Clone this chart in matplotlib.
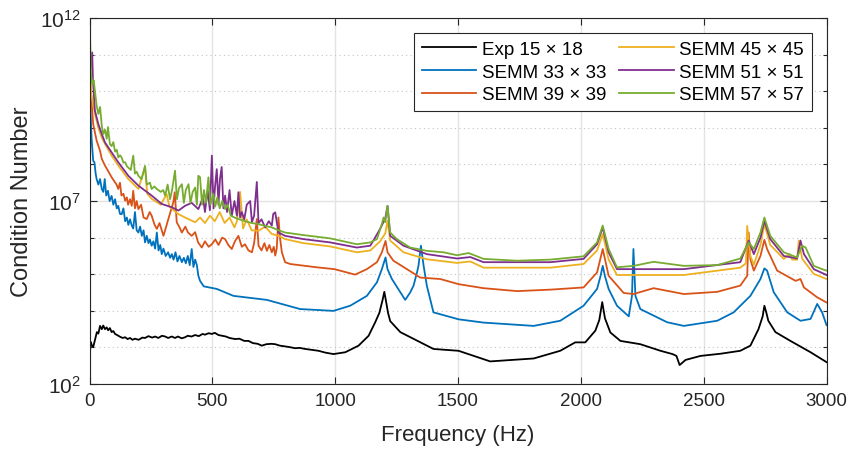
import numpy as np
import matplotlib
matplotlib.use('Agg')
import matplotlib.pyplot as plt
from matplotlib.ticker import FixedLocator, FixedFormatter, NullFormatter

plt.rcParams['font.family'] = ['Liberation Sans', 'DejaVu Sans']
plt.rcParams['mathtext.fontset'] = 'custom'
plt.rcParams['mathtext.rm'] = 'Liberation Sans'
plt.rcParams['mathtext.it'] = 'Liberation Sans:italic'

# frequency (Hz) and log10(condition number)
exp_f = [0, 3, 5, 10, 15, 22, 30, 36, 43, 50, 56, 63, 70, 76, 83, 90, 97, 104, 115, 125,
         135, 145, 155, 165, 175, 185, 200, 215, 226, 240, 255, 267, 280, 295, 308, 320, 335, 348, 360, 375,
         389, 400, 415, 430, 445, 460, 470, 485, 498, 510, 525, 540, 555, 570, 593, 610, 630, 647, 665, 685,
         701, 720, 740, 756, 775, 796, 815, 837, 855, 878, 900, 932, 960, 993,
         1041, 1095, 1136, 1163, 1180, 1193, 1200, 1206, 1215, 1224, 1265, 1400,
         1502, 1631, 1808, 1916, 1977, 2018, 2059, 2075, 2087, 2098, 2120, 2161, 2242, 2324, 2373, 2389, 2402, 2426, 2487, 2569,
         2649, 2690, 2723, 2740, 2747, 2755, 2763, 2792, 2853, 2935, 3000]
exp_c = [2.41, 3.0, 3.15, 3.05, 3.01, 3.2, 3.42, 3.38, 3.59, 3.5, 3.6, 3.50, 3.55, 3.47, 3.53, 3.42, 3.45, 3.37, 3.33, 3.29,
         3.26, 3.28, 3.23, 3.26, 3.21, 3.24, 3.21, 3.27, 3.26, 3.31, 3.27, 3.30, 3.26, 3.32, 3.30, 3.26, 3.30, 3.26, 3.3, 3.25,
         3.28, 3.32, 3.30, 3.34, 3.31, 3.37, 3.35, 3.39, 3.37, 3.40, 3.34, 3.32, 3.30, 3.26, 3.23, 3.24, 3.18, 3.18, 3.12, 3.10,
         3.05, 3.09, 3.10, 3.09, 3.05, 3.03, 3.01, 2.98, 2.99, 2.96, 2.94, 2.91, 2.86, 2.82,
         2.87, 3.05, 3.32, 3.69, 3.95, 4.30, 4.52, 4.30, 3.95, 3.72, 3.42, 2.96,
         2.91, 2.62, 2.70, 2.91, 3.14, 3.14, 3.46, 3.75, 4.24, 3.80, 3.41, 3.18, 3.09, 2.91, 2.82, 2.77, 2.52, 2.66, 2.77, 2.83,
         2.91, 3.05, 3.50, 3.85, 4.14, 3.95, 3.73, 3.42, 3.18, 2.87, 2.60]

s33_f = [0, 2, 6, 9, 15, 20, 25, 29, 36, 43, 50, 56, 62, 68, 75, 82, 90, 97, 104, 111,
         117, 124, 131, 138, 145, 152, 158, 165, 172, 178, 185, 192, 199, 206, 213, 220, 226, 233, 240, 246,
         253, 260, 267, 274, 281, 288, 294, 301, 310, 320, 328, 335, 342, 350, 358, 366, 376, 384, 392, 400,
         408, 416, 423, 430, 437, 443, 450, 465, 518, 586, 722, 857, 993,
         1061, 1129, 1170, 1190, 1205, 1213, 1231, 1285,
         1305, 1319, 1333, 1339, 1349, 1360, 1373, 1400, 1502, 1604, 1808, 1916, 2011, 2066, 2080, 2089, 2098, 2113, 2147, 2195,
         2208, 2214, 2222, 2242, 2351, 2419, 2555, 2622, 2690, 2731, 2747, 2758, 2785, 2840, 2894, 2935, 2962, 2982, 3000]
s33_c = [10.66, 10.01, 9.10, 8.65, 8.10, 8.06, 7.75, 7.60, 7.45, 7.6, 7.33, 7.25, 7.60, 7.15, 7.28, 7.0, 7.14, 6.9, 7.05, 6.8,
         6.87, 6.65, 6.64, 6.8, 6.45, 6.55, 6.35, 6.5, 6.33, 6.25, 6.70, 6.2, 6.14, 6.3, 6.05, 6.2, 5.87, 6.05, 5.85, 5.95,
         5.78, 5.9, 5.7, 6.14, 5.65, 5.8, 5.55, 5.7, 5.5, 5.6, 5.45, 5.55, 5.4, 5.6, 5.35, 5.5, 5.33, 5.45, 5.3, 5.5,
         5.25, 5.69, 5.2, 5.4, 5.25, 4.96, 4.82, 4.67, 4.60, 4.41, 4.30, 4.05, 4.00,
         4.14, 4.41, 4.78, 5.14, 5.46, 5.14, 4.87, 4.30,
         4.50, 4.69, 5.05, 5.23, 5.78, 5.23, 4.69, 3.96, 3.77, 3.68, 3.59, 3.73, 4.14, 4.60, 4.95, 5.23, 4.95, 4.60, 4.14, 3.85,
         4.41, 5.69, 4.41, 4.05, 3.69, 3.59, 3.73, 3.96, 4.41, 4.87, 5.16, 5.10, 4.51, 3.96, 3.73, 3.78, 4.19, 3.96, 3.61]

s39_f = [0, 2, 8, 15, 29, 43, 50, 63, 90, 110, 117, 124, 130, 138, 145, 152, 157, 165, 172, 178,
         185, 192, 199, 210, 220, 233, 245, 253, 265, 274, 285, 301, 312, 321, 333, 341, 347, 355, 365, 376,
         390, 401, 416, 430, 442, 457, 470, 485, 498, 512, 525, 540, 552, 565, 579, 592, 606, 620, 633, 647,
         661, 670, 681, 688, 700, 712, 722, 732, 742, 750, 756, 762, 769, 776, 783, 796, 817,
         925, 997, 1081, 1129, 1170, 1190, 1205, 1213, 1237, 1292, 1346, 1428, 1502, 1604, 1740, 1876, 2011, 2066, 2089, 2113,
         2174, 2214, 2296, 2419, 2555, 2649, 2677, 2683, 2690, 2704, 2731, 2747, 2758, 2799, 2874, 2894, 2908, 2962, 3000]
s39_c = [10.88, 10.47, 9.74, 9.10, 8.65, 8.37, 8.15, 7.97, 7.65, 7.45, 7.33, 7.5, 7.15, 7.2, 7.01, 7.1, 6.9, 7.05, 6.87, 7.28,
         6.8, 7.0, 6.78, 6.9, 6.55, 6.51, 6.7, 6.60, 6.35, 6.24, 6.4, 6.05, 6.3, 6.51, 6.78, 6.96, 7.24, 6.42, 6.3, 6.14,
         6.3, 6.14, 6.05, 6.15, 5.87, 5.73, 5.9, 5.75, 5.82, 5.95, 5.8, 6.0, 5.96, 5.8, 5.69, 5.9, 6.05, 5.75, 5.82, 5.65,
         5.60, 5.85, 6.51, 5.78, 5.65, 5.85, 5.64, 5.8, 5.60, 5.75, 5.51, 5.7, 6.55, 5.96, 5.6, 5.33, 5.28,
         5.19, 5.14, 4.99, 5.14, 5.33, 5.60, 5.91, 5.60, 5.37, 5.14, 4.91, 4.87, 4.73, 4.62, 4.54, 4.58, 4.64, 5.05, 5.69, 4.96,
         4.49, 4.46, 4.62, 4.46, 4.52, 4.69, 4.96, 6.14, 5.41, 5.10, 5.50, 5.94, 5.69, 5.10, 4.82, 4.87, 4.64, 4.37, 4.23]

s45_f = [0, 4, 8, 22, 36, 50, 63, 90, 117, 158, 199, 226, 235, 253, 290, 314, 325, 360, 389, 430,
         450, 470, 490, 510, 530, 550, 570, 590, 600, 613, 625, 640, 660, 688, 715, 742, 770, 796,
         871, 980, 1088, 1143, 1183, 1204, 1213, 1224, 1278, 1373, 1496, 1550,
         1604, 1876, 2011, 2066, 2089, 2113, 2147, 2419, 2649, 2672, 2677, 2690, 2704, 2731, 2747, 2771, 2826, 2850, 2860, 2880,
         2887, 2901, 2948, 3000]
s45_c = [11.2, 10.3, 9.9, 9.38, 9.00, 8.73, 8.56, 8.24, 7.97, 7.60, 7.33, 7.93, 7.2, 7.06, 6.9, 7.19, 6.85, 6.65, 6.55, 6.42,
         6.55, 6.40, 6.6, 6.45, 6.7, 6.40, 6.55, 6.28, 6.45, 7.25, 6.25, 6.5, 6.2, 6.19, 6.3, 6.10, 6.05, 5.96,
         5.85, 5.76, 5.60, 5.65, 5.90, 6.12, 6.46, 5.92, 5.60, 5.41, 5.31, 5.35,
         5.18, 5.18, 5.28, 5.65, 6.10, 5.40, 4.98, 4.98, 5.18, 5.30, 6.32, 5.50, 5.26, 5.80, 6.37, 5.80, 5.42, 5.55, 5.40, 5.40,
         5.92, 5.42, 5.01, 4.87]

s51_f = [0, 4, 11, 14, 22, 36, 50, 63, 90, 117, 158, 199, 253, 294, 335, 362, 389, 416, 443, 462,
         470, 481, 490, 498, 505, 511, 518, 525, 531, 538, 545, 552, 560, 570, 579, 590, 600, 606, 613, 620,
         630, 640, 654, 661, 670, 681, 688, 700, 715, 730, 742, 748, 756, 769, 796,
         871, 980, 1088, 1143, 1183, 1204, 1213, 1224, 1278, 1373, 1496, 1550, 1604, 1876, 2011,
         2066, 2089, 2113, 2147, 2419, 2649, 2677, 2683, 2704, 2731, 2747, 2771, 2826, 2880, 2894, 2908, 2948, 3000]
s51_c = [11.3, 10.6, 11.06, 10.3, 9.47, 9.10, 8.83, 8.60, 8.33, 8.06, 7.69, 7.42, 7.15, 6.92, 6.83, 6.74, 6.87, 6.95, 6.78, 7.1,
         6.7, 7.3, 6.75, 8.24, 6.8, 7.4, 7.87, 6.9, 7.6, 7.93, 6.8, 7.15, 6.7, 7.3, 6.6, 7.0, 6.6, 7.24, 6.55, 6.7,
         6.5, 6.9, 7.0, 6.42, 6.6, 7.52, 6.4, 6.5, 6.28, 6.45, 6.33, 6.65, 6.69, 6.14, 6.05,
         5.96, 5.87, 5.73, 5.78, 6.24, 6.53, 6.87, 6.05, 5.78, 5.55, 5.43, 5.47, 5.33, 5.33, 5.42,
         5.82, 6.28, 5.60, 5.14, 5.14, 5.33, 5.82, 5.92, 5.55, 6.00, 6.46, 5.96, 5.50, 5.43, 5.92, 5.55, 5.14, 4.98]

s57_f = [0, 2, 6, 12, 17, 22, 29, 36, 43, 50, 56, 63, 70, 75, 83, 90, 97, 104, 111, 117,
         124, 131, 138, 145, 152, 160, 168, 178, 185, 192, 199, 212, 226, 233, 246, 253, 264, 274, 290, 300,
         308, 318, 328, 336, 348, 356, 364, 376, 384, 392, 403, 411, 420, 430, 437, 443, 450, 458, 466, 474,
         484, 492, 504, 512, 520, 530, 540, 552, 562, 575, 590, 610, 633, 660, 688, 715, 742, 770, 796,
         871, 980, 1088, 1143, 1170, 1190, 1197, 1204, 1213, 1224, 1251, 1305, 1373, 1441, 1496, 1543, 1604, 1740, 1876, 2011,
         2066, 2089, 2113, 2147, 2214, 2296, 2419, 2555, 2649, 2683, 2704, 2731, 2747, 2771, 2826, 2880, 2901, 2915, 2948, 2982,
         3000]
s57_c = [12.0, 11.56, 10.47, 10.2, 10.3, 10.01, 9.6, 9.38, 9.57, 9.05, 8.83, 8.95, 8.7, 9.02, 8.56, 8.5, 8.61, 8.35, 8.4, 8.19,
         8.25, 8.19, 8.05, 8.06, 7.95, 7.9, 7.85, 8.24, 7.75, 7.8, 7.69, 7.6, 7.96, 7.45, 7.5, 7.33, 7.4, 7.33, 7.25, 7.3,
         7.15, 7.45, 7.05, 7.3, 7.83, 7.05, 7.35, 7.46, 6.95, 7.3, 7.46, 6.95, 7.25, 7.37, 6.9, 7.69, 7.65, 6.9, 7.3, 6.95,
         7.65, 6.9, 7.2, 6.85, 7.1, 6.8, 7.0, 6.78, 6.9, 6.6, 6.55, 6.5, 6.45, 6.40, 6.37, 6.32, 6.28, 6.2, 6.14,
         6.07, 5.98, 5.82, 5.87, 5.96, 6.37, 6.55, 6.42, 6.87, 6.14, 5.96, 5.73, 5.64, 5.60, 5.52, 5.58, 5.42, 5.37, 5.40, 5.49,
         5.87, 6.33, 5.69, 5.19, 5.23, 5.34, 5.23, 5.25, 5.43, 5.87, 5.69, 6.14, 6.55, 6.05, 5.60, 5.46, 5.78, 5.73, 5.23, 5.14,
         5.10]

labels = ['Exp 15 × 18', 'SEMM 33 × 33', 'SEMM 39 × 39',
          'SEMM 45 × 45', 'SEMM 51 × 51', 'SEMM 57 × 57']
colors = ['#000000', '#0072bd', '#d95319', '#edb120', '#7e2f8e', '#77ac30']
series = [(exp_f, exp_c), (s33_f, s33_c), (s39_f, s39_c),
          (s45_f, s45_c), (s51_f, s51_c), (s57_f, s57_c)]

fig = plt.figure(figsize=(8.5, 4.52), dpi=100)
ax = fig.add_axes([0.1053, 0.148, 0.8671, 0.81])

for (f, c), lab, col in zip(series, labels, colors):
    ax.plot(f, 10 ** np.array(c), color=col, lw=1.3, label=lab)

ax.set_yscale('log')
ax.set_xlim(0, 3000)
ax.set_ylim(1e2, 1e12)
ax.set_xticks(np.arange(0, 3001, 500))
ax.yaxis.set_major_locator(FixedLocator([1e2, 1e7, 1e12]))
ax.yaxis.set_major_formatter(FixedFormatter([r'$10^{2}$', r'$10^{7}$', r'$10^{12}$']))
ax.yaxis.set_minor_locator(FixedLocator([10.0 ** k for k in range(3, 12) if k != 7]))
ax.yaxis.set_minor_formatter(NullFormatter())

ax.grid(True, which='major', color='#e3e3e3', lw=1.0, ls='-')
ax.grid(True, which='minor', axis='y', color='#c4c4c4', lw=0.8, ls=(0, (1, 3)))
ax.set_axisbelow(True)

ax.tick_params(which='both', direction='in', top=True, right=True, colors='#262626')
ax.tick_params(which='major', length=5, width=0.8)
ax.tick_params(which='minor', length=3, width=0.8)
ax.tick_params(axis='x', labelsize=13.5, pad=6)
ax.tick_params(axis='y', labelsize=15, pad=6)
for sp in ax.spines.values():
    sp.set_color('#262626')
    sp.set_linewidth(0.8)

ax.set_xlabel('Frequency (Hz)', fontsize=16, color='#262626')
ax.set_ylabel('Condition Number', fontsize=17, color='#262626')
ax.xaxis.set_label_coords(0.5, -0.109)
ax.yaxis.set_label_coords(-0.077, 0.5)

leg = ax.legend(loc='upper right', bbox_to_anchor=(0.980, 0.958), ncol=2, fontsize=13.5,
                frameon=True, fancybox=False, framealpha=1, edgecolor='#262626',
                borderaxespad=0, borderpad=0.4, handlelength=2.9, handletextpad=0.3,
                columnspacing=0.7, labelspacing=0.3)
leg.get_frame().set_linewidth(0.8)

fig.savefig('out.png', dpi=100)
